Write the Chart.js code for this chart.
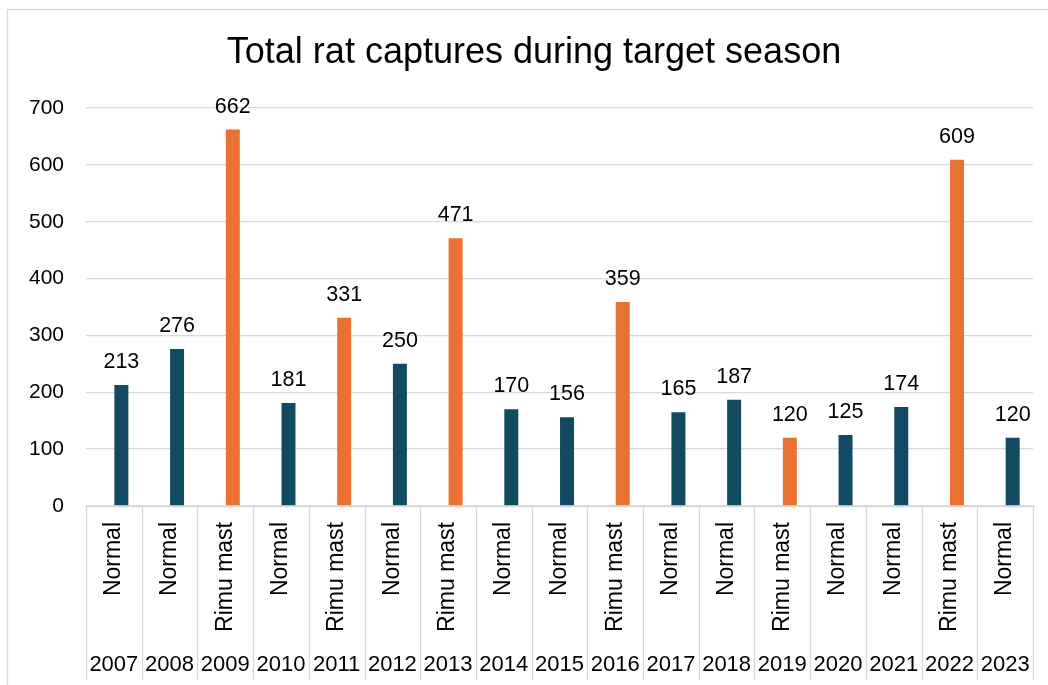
<!DOCTYPE html>
<html>
<head>
<meta charset="utf-8">
<script src="https://cdn.jsdelivr.net/npm/chart.js@4"></script>
<style>
  html, body { margin: 0; padding: 0; background: #fff; }
  #wrap { width: 1048px; height: 685px; position: relative; }
</style>
</head>
<body>
<div id="wrap"><canvas id="ratChart"></canvas></div>
<script>
// data
const years = ['2007', '2008', '2009', '2010', '2011', '2012', '2013', '2014', '2015',
    '2016', '2017', '2018', '2019', '2020', '2021', '2022', '2023'];
const seasonType = ['Normal', 'Normal', 'Rimu mast', 'Normal', 'Rimu mast', 'Normal', 'Rimu mast',
    'Normal', 'Normal', 'Rimu mast', 'Normal', 'Normal', 'Rimu mast', 'Normal', 'Normal',
    'Rimu mast', 'Normal'];
const captures = [213, 276, 662, 181, 331, 250, 471, 170, 156, 359, 165, 187, 120, 125, 174, 609, 120];
const yTicks = [0, 100, 200, 300, 400, 500, 600, 700];

const titleText = 'Total rat captures during target season';
const FONT = '"Liberation Sans", Arial, sans-serif';
const colNormal = '#134A63';
const colMast = '#E97132';
const gridCol = '#d9d9d9';

// title, outer frame, value labels and the two-level category axis
const excelBits = {
    id: 'excelBits',
    beforeDraw(chart) {
        const ctx = chart.ctx;
        ctx.save();
        ctx.strokeStyle = gridCol;
        ctx.lineWidth = 1.3;
        ctx.strokeRect(7.5, 9.5, 1060, 700);
        ctx.restore();
    },
    afterDraw(chart) {
        const ctx = chart.ctx;
        const x = chart.scales.x;
        const area = chart.chartArea;
        const meta = chart.getDatasetMeta(1);
        ctx.save();

        ctx.fillStyle = '#000';
        ctx.font = '36px ' + FONT;
        ctx.textAlign = 'center';
        ctx.textBaseline = 'middle';
        ctx.fillText(titleText, 534, 53);

        // value labels above bars
        ctx.font = '21.5px ' + FONT;
        ctx.textBaseline = 'alphabetic';
        meta.data.forEach((bar, i) => {
            ctx.fillText(String(captures[i]), bar.x, bar.y - 17);
        });

        // category separators
        const step = (area.right - area.left) / years.length;
        ctx.strokeStyle = gridCol;
        ctx.lineWidth = 1.3;
        ctx.beginPath();
        ctx.moveTo(area.left, area.bottom + 0.5);
        ctx.lineTo(area.right + 2, area.bottom + 0.5);
        for (let i = 0; i <= years.length; i++) {
            const px = Math.round(area.left + i * step) + 0.5;
            ctx.moveTo(px, area.bottom);
            ctx.lineTo(px, 680);
        }
        ctx.stroke();

        // rotated season type + year
        years.forEach((yr, i) => {
            const cx = x.getPixelForValue(i);
            ctx.save();
            ctx.font = '23px ' + FONT;
            ctx.translate(cx, 522);
            ctx.rotate(-Math.PI / 2);
            ctx.textAlign = 'right';
            ctx.textBaseline = 'middle';
            ctx.fillText(seasonType[i], 0, 0);
            ctx.restore();
            ctx.font = '22px ' + FONT;
            ctx.textAlign = 'center';
            ctx.textBaseline = 'middle';
            ctx.fillText(yr, cx, 665);
        });
        ctx.restore();
    }
};

const ctx = document.getElementById('ratChart').getContext('2d');
new Chart(ctx, {
    type: 'bar',
    data: {
        labels: years,
        datasets: [{
            // empty first series, it pushes the real bars right of centre like in the sheet
            label: '',
            data: years.map(() => null),
            categoryPercentage: 0.54,
            barPercentage: 0.93
        }, {
            label: 'Total captures',
            data: captures,
            backgroundColor: seasonType.map(t => t === 'Rimu mast' ? colMast : colNormal),
            borderWidth: 0,
            categoryPercentage: 0.54,
            barPercentage: 0.93
        }]
    },
    options: {
        responsive: true,
        maintainAspectRatio: false,
        animation: false,
        layout: {
            padding: { top: 108, right: 15, bottom: 0, left: 0 }
        },
        scales: {
            x: {
                grid: { display: false },
                border: { display: false },
                ticks: { display: false },
                afterFit: s => { s.height = 179; }
            },
            y: {
                min: 0,
                max: 700,
                afterBuildTicks: s => { s.ticks = yTicks.map(v => ({ value: v })); },
                afterFit: s => { s.width = 86; },
                grid: { color: gridCol, lineWidth: 1.3, drawTicks: false },
                border: { display: false },
                ticks: {
                    padding: 22,
                    color: '#000',
                    font: { family: FONT, size: 21 }
                }
            }
        },
        plugins: {
            legend: { display: false },
            tooltip: { enabled: false }
        }
    },
    plugins: [excelBits]
});
</script>
</body>
</html>
